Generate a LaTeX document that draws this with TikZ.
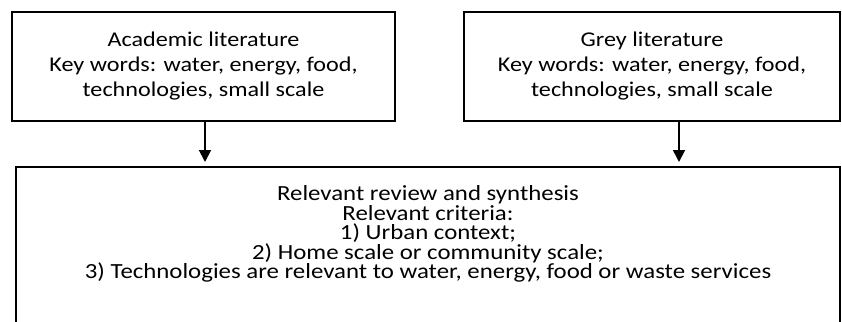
\documentclass[tikz,border=0pt]{standalone}
\usepackage{fontspec}
\setmainfont{Carlito}[FakeStretch=1.15]
\usepackage{tikz}
\usetikzlibrary{arrows.meta}

\tikzset{
  srcbox/.style={draw, line width=1.8pt, align=center, inner sep=0pt,
    font=\fontsize{21}{25}\selectfont},
  flowarrow/.style={line width=1.8pt, -{Triangle[length=12pt,width=12pt]}}
}

\begin{document}
\begin{tikzpicture}[x=1pt,y=-1pt]
  \useasboundingbox (0,0) rectangle (842,321);
  \clip (0,0) rectangle (842,321);
  % the two literature sources
  \node[srcbox, minimum width=383pt, minimum height=109pt] (acad) at (203.5,66.5)
    {Academic literature\\Key words: water, energy, food,\\technologies, small scale};
  \node[srcbox, minimum width=376pt, minimum height=109pt] (grey) at (652,66.5)
    {Grey literature\\Key words: water, energy, food,\\technologies, small scale};
  % review box, its lower edge runs out of the picture
  \node[draw, line width=1.8pt, inner sep=0pt, anchor=north] (review) at (428,166)
    {\parbox[c][200pt][t]{824pt}{\centering\fontsize{21.6}{19.5}\selectfont
      \vspace*{19pt}
      Relevant review and synthesis\\
      Relevant criteria:\\
      1) Urban context;\\
      2) Home scale or community scale;\\
      3) Technologies are relevant to water, energy, food or waste services\par}};
  % arrows
  \draw[flowarrow] ([xshift=1.5pt]acad.south) -- ([xshift=1.5pt,yshift=4pt]acad.south |- review.north);
  \draw[flowarrow] ([xshift=27pt]grey.south) -- ([xshift=27pt,yshift=4pt]grey.south |- review.north);
\end{tikzpicture}
\end{document}
